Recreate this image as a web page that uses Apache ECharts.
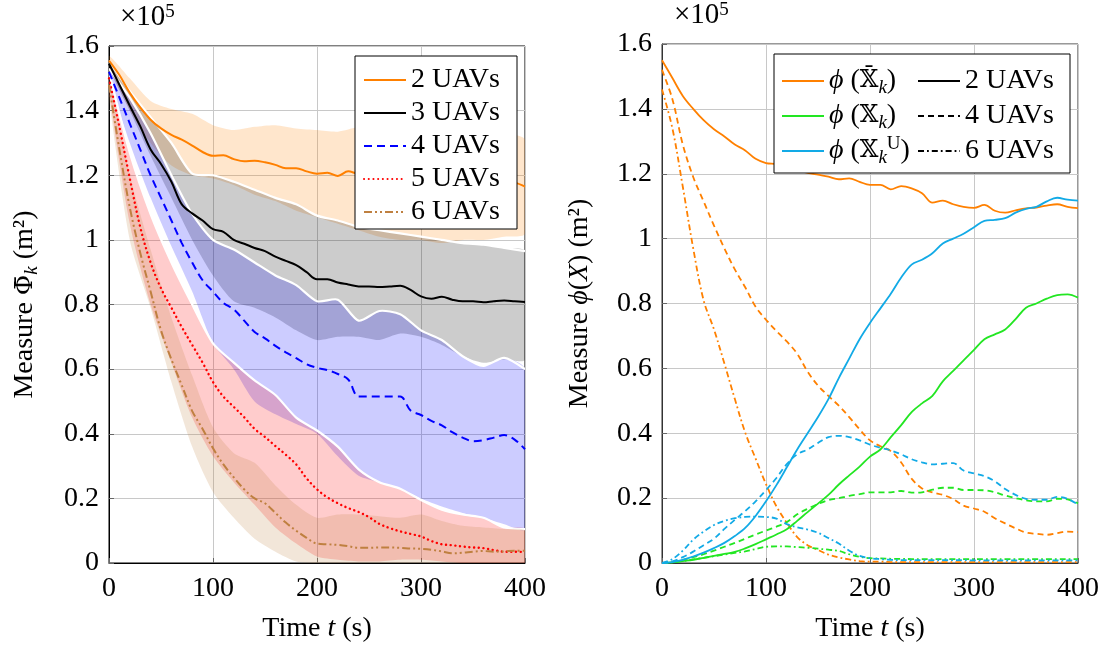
<!DOCTYPE html>
<html><head><meta charset="utf-8">
<script src="https://cdn.jsdelivr.net/npm/echarts@6/dist/echarts.min.js"></script>
<style>html,body{margin:0;padding:0;background:#fff}#c{width:1112px;height:650px}</style>
</head><body><div id="c"></div><script>
// ---------- time grids ----------
const T10 = [0,10,20,30,40,50,60,70,80,90,100,110,120,130,140,150,160,170,180,190,200,210,220,230,240,250,260,270,280,290,300,310,320,330,340,350,360,370,380,390,400];
const T20 = [0,20,40,60,80,100,120,140,160,180,200,220,240,260,280,300,320,340,360,380,400];
const xTicks = [0,100,200,300,400];
const yTicks = [0,0.2,0.4,0.6,0.8,1,1.2,1.4,1.6];

// ---------- left panel: mean lines (x10^5 m^2) ----------
const uav2 = [1.555,1.51,1.455,1.41,1.372,1.345,1.325,1.31,1.292,1.272,1.26,1.262,1.25,1.243,1.245,1.24,1.232,1.222,1.222,1.212,1.205,1.208,1.198,1.212,1.205,1.21,1.205,1.205,1.2,1.2,1.2,1.195,1.195,1.19,1.19,1.188,1.19,1.19,1.185,1.178,1.165];
const uav3 = [1.545,1.48,1.415,1.352,1.28,1.235,1.18,1.11,1.082,1.06,1.033,1.025,1.0,0.988,0.975,0.965,0.948,0.935,0.922,0.9,0.878,0.878,0.868,0.862,0.856,0.856,0.854,0.856,0.858,0.845,0.825,0.818,0.824,0.815,0.81,0.81,0.807,0.81,0.812,0.81,0.808];
const uav4 = [1.52,1.44,1.36,1.28,1.2,1.13,1.06,0.99,0.93,0.875,0.84,0.805,0.785,0.75,0.715,0.695,0.672,0.652,0.634,0.615,0.604,0.597,0.585,0.568,0.515,0.515,0.515,0.515,0.515,0.472,0.458,0.44,0.426,0.405,0.388,0.377,0.38,0.388,0.396,0.382,0.352];
const uav5 = [1.5,1.35,1.19,1.04,0.93,0.85,0.79,0.73,0.675,0.62,0.56,0.515,0.483,0.451,0.415,0.39,0.362,0.335,0.305,0.262,0.228,0.203,0.185,0.17,0.158,0.142,0.121,0.108,0.098,0.09,0.082,0.068,0.058,0.055,0.051,0.048,0.046,0.04,0.035,0.035,0.034];
const uav6 = [1.48,1.28,1.1,0.96,0.84,0.72,0.63,0.55,0.47,0.415,0.355,0.305,0.265,0.228,0.2,0.185,0.155,0.125,0.1,0.078,0.06,0.058,0.056,0.052,0.047,0.047,0.048,0.048,0.047,0.045,0.044,0.041,0.036,0.03,0.032,0.035,0.037,0.035,0.036,0.038,0.038];

// ---------- left panel: spread bands (lower / upper) ----------
const band2Lo = [1.54,1.40,1.30,1.23,1.20,1.19,1.17,1.14,1.12,1.09,1.07,1.05,1.03,1.01,1.0,1.0,0.99,1.0,1.0,1.01,1.02];
const band2Up = [1.57,1.50,1.43,1.405,1.39,1.355,1.34,1.35,1.355,1.345,1.34,1.335,1.35,1.36,1.36,1.35,1.35,1.36,1.345,1.33,1.31];
const band3Lo = [1.53,1.40,1.26,1.13,1.0,0.89,0.81,0.79,0.76,0.72,0.69,0.70,0.70,0.69,0.71,0.70,0.675,0.64,0.62,0.63,0.63];
const band3Up = [1.555,1.46,1.38,1.30,1.205,1.20,1.18,1.155,1.13,1.11,1.075,1.06,1.04,1.03,1.02,1.01,1.0,0.99,0.985,0.975,0.965];
const band4Lo = [1.5,1.3,1.13,0.98,0.84,0.68,0.6,0.5,0.46,0.43,0.40,0.33,0.27,0.25,0.23,0.2,0.175,0.155,0.14,0.12,0.105];
const band4Up = [1.53,1.44,1.33,1.2,1.08,1.0,0.97,0.93,0.89,0.86,0.81,0.815,0.75,0.78,0.77,0.72,0.69,0.64,0.61,0.635,0.6];
const band5Lo = [1.46,1.05,0.8,0.62,0.45,0.33,0.25,0.18,0.11,0.06,0.02,0.01,0.005,0.005,0.01,0.01,0.005,0,0,0,0];
const band5Up = [1.52,1.27,1.08,0.93,0.8,0.68,0.62,0.565,0.52,0.45,0.41,0.36,0.29,0.25,0.23,0.195,0.165,0.15,0.14,0.11,0.105];
const band6Lo = [1.44,1.0,0.79,0.56,0.36,0.22,0.14,0.075,0.035,0.005,0,0,0,0,0,0,0,0,0,0,0];
const band6Up = [1.5,1.2,0.97,0.76,0.58,0.42,0.34,0.31,0.24,0.18,0.14,0.15,0.15,0.145,0.14,0.15,0.13,0.115,0.11,0.105,0.1];

// ---------- right panel ----------
const phiBar2 = [1.55,1.495,1.44,1.40,1.365,1.337,1.315,1.29,1.272,1.246,1.233,1.23,1.22,1.21,1.203,1.197,1.191,1.183,1.186,1.175,1.166,1.166,1.152,1.162,1.155,1.14,1.111,1.117,1.106,1.098,1.095,1.104,1.086,1.08,1.087,1.093,1.096,1.102,1.106,1.098,1.094];
const phiBar4 = [1.52,1.43,1.29,1.19,1.115,1.04,0.97,0.905,0.85,0.79,0.75,0.715,0.683,0.645,0.59,0.547,0.515,0.485,0.45,0.412,0.378,0.36,0.345,0.31,0.26,0.23,0.218,0.21,0.197,0.177,0.168,0.158,0.138,0.122,0.107,0.094,0.09,0.087,0.092,0.097,0.095];
const phiBar6 = [1.46,1.34,1.16,0.97,0.81,0.72,0.615,0.506,0.402,0.322,0.243,0.175,0.124,0.08,0.055,0.04,0.026,0.017,0.011,0.006,0.004,0.004,0.003,0.003,0.003,0.003,0.003,0.003,0.003,0.003,0.003,0.003,0.003,0.003,0.003,0.003,0.003,0.003,0.003,0.003,0.003];
const phiX2 = [0,0.002,0.006,0.01,0.016,0.022,0.028,0.034,0.045,0.058,0.073,0.088,0.104,0.13,0.157,0.183,0.21,0.242,0.27,0.297,0.328,0.35,0.388,0.425,0.465,0.492,0.515,0.56,0.592,0.625,0.657,0.69,0.705,0.72,0.752,0.787,0.8,0.815,0.826,0.828,0.818];
const phiX4 = [0,0.003,0.01,0.018,0.027,0.038,0.05,0.062,0.075,0.088,0.1,0.112,0.126,0.15,0.167,0.182,0.194,0.2,0.207,0.212,0.218,0.218,0.218,0.222,0.217,0.218,0.226,0.232,0.232,0.225,0.225,0.224,0.218,0.208,0.2,0.193,0.19,0.19,0.198,0.196,0.184];
const phiX6 = [0,0.002,0.006,0.011,0.016,0.021,0.026,0.031,0.036,0.043,0.05,0.051,0.051,0.049,0.047,0.044,0.041,0.037,0.027,0.019,0.015,0.014,0.013,0.013,0.012,0.012,0.012,0.012,0.012,0.012,0.012,0.012,0.012,0.012,0.012,0.012,0.012,0.012,0.012,0.012,0.012];
const phiU2 = [0,0.003,0.01,0.02,0.032,0.046,0.062,0.083,0.108,0.145,0.19,0.24,0.295,0.35,0.4,0.45,0.505,0.57,0.63,0.69,0.74,0.785,0.83,0.88,0.92,0.935,0.955,0.985,1.0,1.015,1.035,1.055,1.058,1.063,1.08,1.092,1.098,1.115,1.126,1.12,1.117];
const phiU4 = [0,0.005,0.018,0.035,0.055,0.075,0.105,0.133,0.16,0.19,0.225,0.262,0.305,0.335,0.35,0.37,0.388,0.392,0.388,0.378,0.365,0.355,0.347,0.335,0.32,0.31,0.304,0.306,0.308,0.285,0.276,0.268,0.252,0.228,0.21,0.198,0.195,0.195,0.204,0.198,0.18];
const phiU6 = [0,0.012,0.038,0.072,0.097,0.117,0.13,0.138,0.142,0.143,0.142,0.137,0.12,0.11,0.103,0.093,0.077,0.06,0.038,0.022,0.015,0.012,0.01,0.009,0.009,0.009,0.009,0.009,0.009,0.009,0.008,0.008,0.008,0.008,0.008,0.008,0.008,0.008,0.008,0.008,0.008];

// ---------- build ----------
const FONT = '"Liberation Serif","DejaVu Serif",serif';
const FS = 28;
const rich = {
  i:{fontFamily:FONT,fontSize:FS,fontStyle:'italic',color:'#000',lineHeight:32},
  sub:{fontFamily:FONT,fontSize:19,fontStyle:'italic',color:'#000',verticalAlign:'bottom',lineHeight:16},
  sup:{fontFamily:FONT,fontSize:19,color:'#000',verticalAlign:'top',lineHeight:14},
  ds:{fontFamily:'"DejaVu Serif","DejaVu Sans",serif',fontSize:24,color:'#000',lineHeight:32},
  ph:{fontFamily:'"DejaVu Serif",serif',fontSize:25,color:'#000',lineHeight:32}
};
const pairs = (T,V) => T.map((t,i)=>[t,V[i]]);
const S = 0.35;
const series = [];
function addBand(lo, up, color, whiteEdge){
  series.push({type:'custom',xAxisIndex:0,yAxisIndex:0,z:1,silent:true,clip:true,data:[[0,0]],
    renderItem:(params, api)=>{
      const top = T20.map((t,i)=>api.coord([t,up[i]]));
      const pts = top.slice();
      for(let i=T20.length-1;i>=0;i--) pts.push(api.coord([T20[i],lo[i]]));
      const children = [{type:'polygon',shape:{points:pts,smooth:0.25},style:{fill:color}}];
      if(whiteEdge) children.push({type:'polyline',shape:{points:top,smooth:0.25},
        style:{stroke:'#ffffff',lineWidth:2.2,fill:null}});
      return {type:'group',children:children};
    }});
}
addBand(band2Lo,band2Up,'rgba(255,128,0,0.2)',false);
addBand(band3Lo,band3Up,'rgba(0,0,0,0.2)',true);
addBand(band4Lo,band4Up,'rgba(0,0,255,0.2)',true);
addBand(band5Lo,band5Up,'rgba(255,0,0,0.2)',true);
addBand(band6Lo,band6Up,'rgba(191,128,64,0.2)',false);
function addLine(name, V, color, type, xi, width, cap){
  series.push({type:'line',name:name,data:pairs(T10,V),symbol:'none',smooth:S,z:5,
    xAxisIndex:xi,yAxisIndex:xi,itemStyle:{color:color},
    lineStyle:{color:color,width:width,type:type,cap:cap||'butt'}});
}
addLine('2 UAVs',uav2,'#ff8000','solid',0,2);
addLine('3 UAVs',uav3,'#000000','solid',0,2);
addLine('4 UAVs',uav4,'#0000ff',[8,5],0,2);
addLine('5 UAVs',uav5,'#ff0000',[0.1,4.6],0,2.4,'round');
addLine('6 UAVs',uav6,'#bf8040',[8,3,2,3,2,3],0,2);

const OR='#ff8000', GR='#22e622', CY='#12aae6';
const RD = [6,4], RDD = [6,3,1.8,3];
addLine('pb',phiBar2,OR,'solid',1,1.8);
addLine('pb4',phiBar4,OR,RD,1,1.8);
addLine('pb6',phiBar6,OR,RDD,1,1.8);
addLine('px',phiX2,GR,'solid',1,1.8);
addLine('px4',phiX4,GR,RD,1,1.8);
addLine('px6',phiX6,GR,RDD,1,1.8);
addLine('pu',phiU2,CY,'solid',1,1.8);
addLine('pu4',phiU4,CY,RD,1,1.8);
addLine('pu6',phiU6,CY,RDD,1,1.8);
// style-only legend entries (no data)
[['s2','solid'],['s4',RD],['s6',RDD]].forEach(([n,t])=>{
  series.push({type:'line',name:n,data:[],symbol:'none',xAxisIndex:1,yAxisIndex:1,itemStyle:{color:'#000'},lineStyle:{color:'#000',width:1.8,type:t}});
});

const legText = {
  pb:'{i|ϕ} ({ds|𝕏̄}{sub|k})', px:'{i|ϕ} ({ds|𝕏}{sub|k})', pu:'{i|ϕ} ({ds|𝕏}{sub|k}{sup|U})',
  s2:'2 UAVs', s4:'4 UAVs', s6:'6 UAVs'
};
function xAx(gi, frame){
  return {gridIndex:gi,type:'value',min:0,max:400,interval:100,
    axisLine:{show:true,onZero:false,lineStyle:{color:frame,width:1}},
    axisTick:{show:true,inside:true,length:5,lineStyle:{color:'#666'}},
    axisLabel:{fontFamily:FONT,fontSize:FS,color:'#000',margin:12,formatter:v=>xTicks.includes(v)?String(v):''},
    splitLine:{show:true,lineStyle:{color:'#c8c8c8',width:1}},
    name:'Time {i|t} (s)',nameLocation:'middle',nameGap:50,
    nameTextStyle:{fontFamily:FONT,fontSize:FS,color:'#000',lineHeight:32,rich:rich}};
}
function yAx(gi, nm, gap, frame){
  return {gridIndex:gi,type:'value',min:0,max:1.6,interval:0.2,
    axisLine:{show:true,onZero:false,lineStyle:{color:frame,width:1}},
    axisTick:{show:true,inside:true,length:5,lineStyle:{color:'#666'}},
    axisLabel:{fontFamily:FONT,fontSize:FS,color:'#000',margin:10,
      formatter:v=>{const r=Math.round(v*10)/10; return yTicks.includes(r)?String(r):'';}},
    splitLine:{show:true,lineStyle:{color:'#c8c8c8',width:1}},
    name:nm,nameLocation:'middle',nameGap:gap,nameRotate:90,
    nameTextStyle:{fontFamily:FONT,fontSize:FS,color:'#000',lineHeight:32,rich:rich}};
}
const legCommon = {orient:'vertical',itemWidth:42,itemHeight:14,selectedMode:false,z:30,
  itemStyle:{opacity:0},
  textStyle:{fontFamily:FONT,fontSize:FS,color:'#000',lineHeight:32,rich:rich}};

const option = {
  animation:false,
  backgroundColor:'#fff',
  grid:[
    {left:109,top:46,width:416,height:519,show:true,borderColor:'#000',borderWidth:1,backgroundColor:'transparent'},
    {left:662,top:44,width:416,height:521,show:true,borderColor:'#333',borderWidth:1,backgroundColor:'transparent'}
  ],
  xAxis:[xAx(0,'#000'),xAx(1,'#333')],
  yAxis:[yAx(0,'Measure {ph|Φ̄}{sub|k} (m²)',68,'#000'), yAx(1,'Measure {i|ϕ}({i|X}) (m²)',66,'#333')],
  legend:[
    Object.assign({},legCommon,{data:['2 UAVs','3 UAVs','4 UAVs','5 UAVs','6 UAVs'],left:363,top:64,itemGap:1,padding:0}),
    Object.assign({},legCommon,{data:['pb','px','pu'],left:781,top:65,itemGap:3,padding:0,
      formatter:n=>legText[n]}),
    Object.assign({},legCommon,{data:['s2','s4','s6'],left:917,top:65,itemGap:3,padding:0,
      formatter:n=>legText[n]})
  ],
  graphic:[
    {type:'rect',shape:{x:355,y:56,width:162,height:173},style:{fill:'#fff',stroke:'#000',lineWidth:1},z:25},
    {type:'rect',shape:{x:774,y:54,width:296,height:119},style:{fill:'#fff',stroke:'#000',lineWidth:1},z:25},
    {type:'text',left:120,top:3,z:26,style:{text:'×10{sup|5}',font:'29px '+FONT,fill:'#000',rich:rich}},
    {type:'text',left:674,top:1,z:26,style:{text:'×10{sup|5}',font:'29px '+FONT,fill:'#000',rich:rich}}
  ],
  series:series
};
const chart = echarts.init(document.getElementById('c'),null,{renderer:'canvas'});
chart.setOption(option);
</script></body></html>
